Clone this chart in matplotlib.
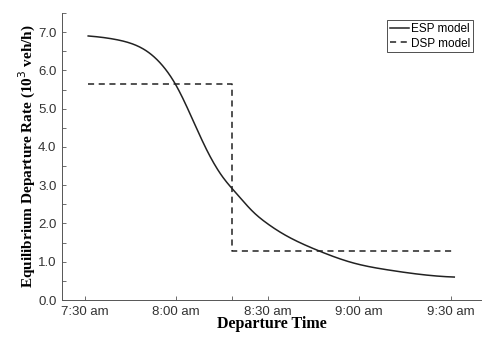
import matplotlib.pyplot as plt
import numpy as np
from scipy.interpolate import CubicSpline

# minutes after 7:30 am
esp_t = [1.1, 5, 10, 15, 20, 25, 30, 35, 40, 45, 50, 55, 60, 65, 70, 76, 88,
         100, 110, 121.2]
esp_rate = [6.90, 6.87, 6.81, 6.71, 6.52, 6.17, 5.60, 4.78, 3.92, 3.24, 2.76,
            2.32, 1.99, 1.73, 1.52, 1.31, 0.97, 0.78, 0.67, 0.60]

dsp_t = [1.1, 48.4, 48.4, 121.2]
dsp_rate = [5.65, 5.65, 1.29, 1.29]

tick_min = [0, 30, 48.4, 60, 90, 120]
tick_lab = ['7:30 am', '8:00 am', '', '8:30 am', '9:00 am', '9:30 am']

plt.rcParams['font.family'] = ['Liberation Sans', 'DejaVu Sans']

fig = plt.figure(figsize=(4.97, 3.47), dpi=100)
ax = fig.add_axes([0.1247, 0.1354, 0.968 - 0.1247, 0.9625 - 0.1354])

tt = np.linspace(esp_t[0], esp_t[-1], 400)
ax.plot(tt, CubicSpline(esp_t, esp_rate)(tt), color='#222222', lw=1.1, label='ESP model')
ax.plot(dsp_t, dsp_rate, color='#222222', lw=1.1, ls=(0, (4, 3)), label='DSP model')

ax.set_xlim(-7.5, 130)
ax.set_ylim(0, 7.5)
ax.set_xticks(tick_min)
ax.set_xticklabels(tick_lab)
ax.set_yticks(np.arange(0, 7.5, 1.0))
ax.set_yticklabels([f'{v:.1f}' for v in np.arange(0, 7.5, 1.0)])
ax.set_yticks(np.arange(0.5, 7.6, 1.0), minor=True)
ax.tick_params(which='both', direction='in', length=3, width=0.6, colors='#555555',
               labelcolor='#333333', labelsize=9.5, pad=4)
for s in ['top', 'right']:
    ax.spines[s].set_visible(False)
for s in ['left', 'bottom']:
    ax.spines[s].set_linewidth(0.7)
    ax.spines[s].set_color('#555555')

ax.set_xlabel('Departure Time', family='Liberation Serif', fontweight='bold',
              fontsize=11.5, labelpad=-1)
ax.set_ylabel('Equilibrium Departure Rate (10$^3$ veh/h)', family='Liberation Serif',
              fontweight='bold', fontsize=11, labelpad=0)

leg = ax.legend(loc='upper right', bbox_to_anchor=(0.98, 0.975), fontsize=8.5,
                handlelength=1.6, handletextpad=0.1, borderpad=0.25,
                labelspacing=0.2, fancybox=False, framealpha=1, borderaxespad=0.0)
leg.get_frame().set_edgecolor('#333333')
leg.get_frame().set_linewidth(0.6)

fig.savefig('out.png', dpi=100)
